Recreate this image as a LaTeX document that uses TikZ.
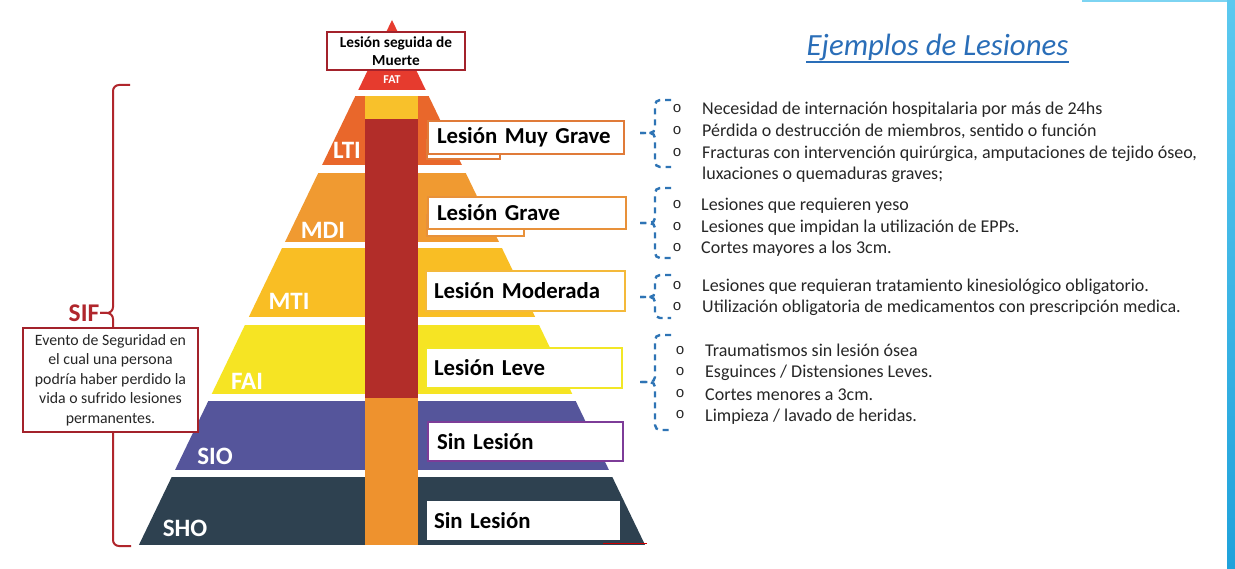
\documentclass[tikz,border=0pt]{standalone}
\usepackage{fontspec}
\setmainfont{Carlito}
\newfontfamily\monofnt{Liberation Mono}
\newfontfamily\boxfont{Carlito}[WordSpace=0.75]
\definecolor{cFAT}{HTML}{E63B2E}
\definecolor{cLTI}{HTML}{E9672B}
\definecolor{cMDI}{HTML}{F09A31}
\definecolor{cMTI}{HTML}{F9BE24}
\definecolor{cFAI}{HTML}{F6E423}
\definecolor{cSIO}{HTML}{55559B}
\definecolor{cSHO}{HTML}{2E4150}
\definecolor{colY}{HTML}{F8C12B}
\definecolor{colR}{HTML}{B22D29}
\definecolor{colO}{HTML}{EE922E}
\definecolor{dred}{HTML}{A3222B}
\definecolor{sifred}{HTML}{B0262C}
\definecolor{bb1}{HTML}{E07B39}
\definecolor{bb2}{HTML}{E8913A}
\definecolor{bb3}{HTML}{F4B93A}
\definecolor{bb4}{HTML}{F2E726}
\definecolor{bb5}{HTML}{7D3C98}
\definecolor{bblue}{HTML}{2E74B5}
\definecolor{tblue}{HTML}{2A6EB8}
\definecolor{txt}{HTML}{262626}
\definecolor{barlight}{HTML}{5CC9EF}
\definecolor{bardark}{HTML}{1FA2DB}
\newcommand{\dashbrace}[3]{%
  \draw[dbrace] (671,#1) -- (655,#1) -- (655,#2) -- (640,#2);
  \draw[dbrace] (640,#2) -- (655,#2) -- (655,#3) -- (671,#3);}
\begin{document}
\begin{tikzpicture}[x=1pt,y=-1pt,
  lvl/.style={text=white, font=\bfseries\fontsize{25}{27}\selectfont, inner sep=0pt},
  lbox/.style={fill=white, line width=1.4pt, inner xsep=9pt, inner ysep=0pt, align=left,
    font=\boxfont\bfseries\fontsize{22.8}{25}\selectfont, text=black},
  item/.style={anchor=base west, inner sep=0pt, text=txt, font=\fontsize{18}{21}\selectfont},
  bul/.style={inner sep=0pt, text=txt, font=\monofnt\fontsize{15}{16}\selectfont},
  dbrace/.style={draw=bblue, line width=2.4pt, dash pattern=on 6pt off 5pt, rounded corners=5pt},
  sifbrace/.style={draw=sifred, line width=2pt, rounded corners=6pt}]
\useasboundingbox (0,0) rectangle (1235,569);
\fill[white] (0,0) rectangle (1235,569);
% pyramid bands
\begin{scope}
\clip (392,20) -- (138.9,545) -- (645.1,545) -- cycle;
\fill[cFAT] (0,0) rectangle (1235,90);
\fill[cLTI] (0,96) rectangle (1235,165);
\fill[cMDI] (0,173) rectangle (1235,242);
\fill[cMTI] (0,248) rectangle (1235,317);
\fill[cFAI] (0,325) rectangle (1235,394);
\fill[cSIO] (0,401) rectangle (1235,470);
\fill[cSHO] (0,477) rectangle (1235,545);
\end{scope}
% central column
\fill[colY] (365,96) rectangle (418,119);
\fill[colR] (365,119) rectangle (418,398);
\fill[colO] (365,398) rectangle (418,545);
% level labels
\node[lvl, font=\bfseries\fontsize{12}{13}\selectfont] (fat) at (392,80) {FAT};
\node[lvl] (lti) at (347,150) {LTI};
\node[lvl] (mdi) at (323,230) {MDI};
\node[lvl] (mti) at (289,301) {MTI};
\node[lvl] (fai) at (247,381) {FAI};
\node[lvl] (sio) at (215,456) {SIO};
\node[lvl] (sho) at (185,528) {SHO};
% top box
\node[draw=dred, fill=white, line width=1.5pt, minimum width=138pt, minimum height=38pt,
  inner sep=0pt, align=center, font=\bfseries\fontsize{15.3}{17.5}\selectfont] (muerte) at (396,51)
  {Lesión seguida de\\Muerte};
% shadow boxes
\draw[bb1, line width=1.2pt, fill=white] (427,140) rectangle (500,159);
\draw[bb2, line width=1.2pt, fill=white] (427,215) rectangle (524,236);
% label boxes
\node[lbox, draw=bb1, minimum width=196pt, minimum height=33pt, text width=178pt] (b1) at (526,137.5) {Lesión Muy Grave};
\node[lbox, draw=bb2, minimum width=198pt, minimum height=32pt, text width=180pt] (b2) at (527,213) {Lesión Grave};
\node[lbox, draw=bb3, minimum width=199pt, minimum height=40pt, text width=183pt, inner xsep=8pt] (b3) at (525.5,291) {Lesión Moderada};
\node[lbox, draw=bb4, minimum width=196pt, minimum height=40pt, text width=180pt, inner xsep=8pt] (b4) at (524,368) {Lesión Leve};
\node[lbox, draw=bb5, minimum width=195pt, minimum height=39pt, text width=177pt] (b5) at (525.5,441.5) {Sin Lesión};
\node[lbox, minimum width=193pt, minimum height=39pt, text width=179pt, inner xsep=7pt] (b6) at (523.5,520.5) {Sin Lesión};
\coordinate (r1) at (603,543.5);
\coordinate (r2) at (647,543.5);
\draw[red!80!black, line width=1.2pt] (r1) -- (r2);
% SIF brace
\draw[sifbrace] (130,85) -- (113,85) -- (113,313) -- (100,313);
\draw[sifbrace] (100,313) -- (113,313) -- (113,546) -- (131,546);
\node[text=sifred, font=\bfseries\fontsize{25.5}{27}\selectfont, inner sep=0pt] (sif) at (84,313) {SIF};
\node[draw=dred, fill=white, line width=1.4pt, minimum width=175pt, minimum height=104pt,
  inner sep=0pt, align=center, text=txt, font=\fontsize{15.8}{19.5}\selectfont] (desc) at (110.5,380)
  {Evento de Seguridad en\\el cual una persona\\podría haber perdido la\\vida o sufrido lesiones\\permanentes.};
% title
\node[anchor=base, inner sep=0pt, text=tblue, font=\itshape\fontsize{30.8}{33}\selectfont] (title) at (937.5,56) {Ejemplos de Lesiones};
\draw[tblue, line width=1.8pt] ([yshift=-6pt]title.base west) -- ([yshift=-6pt]title.base east);
% dashed braces
\dashbrace{100}{133}{167}
\dashbrace{188}{223}{258}
\dashbrace{275}{297}{318}
\dashbrace{335}{382}{430}
% group 1
\node[bul] (o11) at (677,109) {o};
\node[bul] (o12) at (677,131) {o};
\node[bul] (o13) at (677,153) {o};
\node[item] (t11) at (702,115) {Necesidad de internación hospitalaria por más de 24hs};
\node[item] (t12) at (702,137) {Pérdida o destrucción de miembros, sentido o función};
\node[item] (t13) at (702,159) {Fracturas con intervención quirúrgica, amputaciones de tejido óseo,};
\node[item] (t14) at (702,180) {luxaciones o quemaduras graves;};
% group 2
\node[bul] (o21) at (677,205) {o};
\node[bul] (o22) at (677,227) {o};
\node[bul] (o23) at (677,248) {o};
\node[item] (t21) at (701,211) {Lesiones que requieren yeso};
\node[item] (t22) at (701,233) {Lesiones que impidan la utilización de EPPs.};
\node[item] (t23) at (701,254) {Cortes mayores a los 3cm.};
% group 3
\node[bul] (o31) at (677,286) {o};
\node[bul] (o32) at (677,307) {o};
\node[item] (t31) at (702,292) {Lesiones que requieran tratamiento kinesiológico obligatorio.};
\node[item] (t32) at (702,313) {Utilización obligatoria de medicamentos con prescripción medica.};
% group 4
\node[bul] (o41) at (680,351) {o};
\node[bul] (o42) at (680,372) {o};
\node[bul] (o43) at (680,394) {o};
\node[bul] (o44) at (680,415) {o};
\node[item] (t41) at (705,357) {Traumatismos sin lesión ósea};
\node[item] (t42) at (705,378) {Esguinces / Distensiones Leves.};
\node[item] (t43) at (705,400) {Cortes menores a 3cm.};
\node[item] (t44) at (705,421) {Limpieza / lavado de heridas.};
% right decoration
\shade[top color=barlight, bottom color=bardark] (1227,0) rectangle (1235,569);
\fill[barlight!80] (1082,0) rectangle (1227,2.5);
\end{tikzpicture}
\end{document}
